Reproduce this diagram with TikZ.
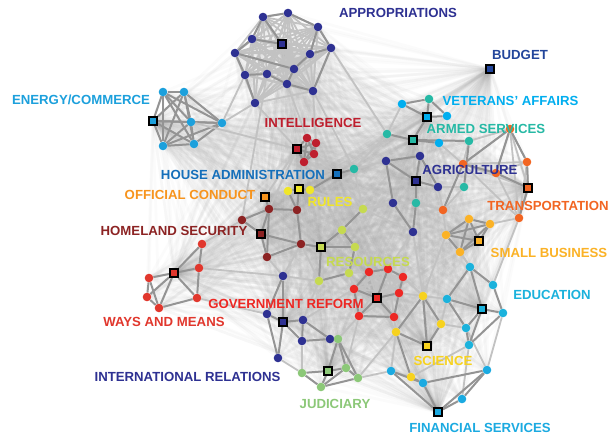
\documentclass[tikz,border=0pt]{standalone}
\usepackage{fontspec}
\setmainfont{Liberation Sans}
\definecolor{cAP}{RGB}{46,49,146}
\definecolor{cBU}{RGB}{35,70,155}
\definecolor{cEC}{RGB}{28,160,220}
\definecolor{cVA}{RGB}{0,174,239}
\definecolor{cAS}{RGB}{38,185,165}
\definecolor{cHA}{RGB}{21,111,186}
\definecolor{cIN}{RGB}{190,30,45}
\definecolor{cOC}{RGB}{247,148,29}
\definecolor{cRU}{RGB}{240,230,40}
\definecolor{cHS}{RGB}{140,35,35}
\definecolor{cRE}{RGB}{198,218,80}
\definecolor{cGR}{RGB}{237,40,36}
\definecolor{cWM}{RGB}{225,55,45}
\definecolor{cTR}{RGB}{242,101,34}
\definecolor{cSB}{RGB}{251,178,38}
\definecolor{cED}{RGB}{27,178,220}
\definecolor{cSC}{RGB}{247,210,30}
\definecolor{cJU}{RGB}{140,200,120}
\definecolor{cFS}{RGB}{27,170,225}
\pgfdeclarelayer{bg}
\pgfsetlayers{bg,main}
\tikzset{
  dot/.style={circle, fill=#1, minimum size=8.6pt, inner sep=0pt},
  sqr/.style={rectangle, draw=black, line width=1.9pt, fill=#1, minimum size=8pt, inner sep=0pt},
  lab/.style={font=\bfseries\fontsize{13.2}{14}\selectfont, text=#1, inner sep=0pt, anchor=center},
  e1/.style={draw=black!42, line width=2pt},
  e2/.style={draw=black!24, line width=1.8pt},
  haze/.style={draw=black!30, line width=2.6pt, opacity=0.05},
}
\newcommand\myclique[2]{%
  \foreach \a [count=\i] in {#2} {
    \foreach \b [count=\j] in {#2} {
      \ifnum\j>\i \draw[#1] (\a) -- (\b); \fi
    }
  }
}
\begin{document}
\begin{tikzpicture}[x=1pt,y=-1pt]
\useasboundingbox (0,0) rectangle (612,438);
% ---------------- nodes ----------------
\foreach \n/\x/\y in {ap1/263/17, ap2/288/13, ap3/318/27, ap4/252/39, ap5/331/48, ap6/235/53, ap7/310/54, ap8/245/75, ap9/267/74, ap10/294/69, ap11/287/84, ap12/313/91, ap13/255/103}
  \node[dot=cAP] (\n) at (\x,\y) {};
\node[sqr=cAP] (ap0) at (282,44) {};
\node[sqr=cBU] (bu0) at (490,69) {};
\foreach \n/\x/\y in {ec1/163/92, ec2/184/92, ec3/191/122, ec4/222/123, ec5/163/146, ec6/194/144}
  \node[dot=cEC] (\n) at (\x,\y) {};
\node[sqr=cEC] (ec0) at (153,121) {};
\foreach \n/\x/\y in {va1/402/104, va2/447/116, va3/439/143}
  \node[dot=cVA] (\n) at (\x,\y) {};
\node[sqr=cVA] (va0) at (427,117) {};
\foreach \n/\x/\y in {as1/429/99, as2/387/134, as3/469/141, as4/464/187, as5/416/203, as6/354/169}
  \node[dot=cAS] (\n) at (\x,\y) {};
\node[sqr=cAS] (as0) at (413,140) {};
\node[sqr=cHA] (ha0) at (337,174) {};
\foreach \n/\x/\y in {in1/307/138, in2/316/143, in3/314/154, in4/304/162}
  \node[dot=cIN] (\n) at (\x,\y) {};
\node[sqr=cIN] (in0) at (297,149) {};
\foreach \n/\x/\y in {ag1/420/156, ag2/386/161, ag3/438/187, ag4/393/203, ag5/413/232}
  \node[dot=cAP] (\n) at (\x,\y) {};
\node[sqr=cAP] (ag0) at (416,181) {};
\foreach \n/\x/\y in {tr1/510/129, tr2/527/162, tr3/463/164, tr4/496/173, tr5/443/210, tr6/519/218}
  \node[dot=cTR] (\n) at (\x,\y) {};
\node[sqr=cTR] (tr0) at (528,188) {};
\foreach \n/\x/\y in {sb1/469/219, sb2/490/224, sb3/446/235, sb4/460/252}
  \node[dot=cSB] (\n) at (\x,\y) {};
\node[sqr=cSB] (sb0) at (479,241) {};
\node[sqr=cOC] (oc0) at (265,197) {};
\foreach \n/\x/\y in {ru1/288/191, ru2/310/190}
  \node[dot=cRU] (\n) at (\x,\y) {};
\node[sqr=cRU] (ru0) at (299,189) {};
\foreach \n/\x/\y in {hs1/269/209, hs2/297/210, hs3/242/220, hs4/301/244, hs5/267/257}
  \node[dot=cHS] (\n) at (\x,\y) {};
\node[sqr=cHS] (hs0) at (261,234) {};
\foreach \n/\x/\y in {re1/363/209, re2/342/230, re3/355/247, re4/349/273, re5/319/281}
  \node[dot=cRE] (\n) at (\x,\y) {};
\node[sqr=cRE] (re0) at (321,247) {};
\foreach \n/\x/\y in {gr1/369/272, gr2/388/269, gr3/403/277, gr4/354/289, gr5/399/293, gr6/359/316, gr7/394/317}
  \node[dot=cGR] (\n) at (\x,\y) {};
\node[sqr=cGR] (gr0) at (377,298) {};
\foreach \n/\x/\y in {wm1/202/244, wm2/199/268, wm3/149/278, wm4/147/297, wm5/159/308, wm6/197/298}
  \node[dot=cWM] (\n) at (\x,\y) {};
\node[sqr=cWM] (wm0) at (174,273) {};
\foreach \n/\x/\y in {ed1/470/267, ed2/493/285, ed3/447/299, ed4/503/313, ed5/466/328, ed6/469/345}
  \node[dot=cED] (\n) at (\x,\y) {};
\node[sqr=cED] (ed0) at (482,309) {};
\foreach \n/\x/\y in {sc1/423/296, sc2/441/324, sc3/396/332, sc4/411/377}
  \node[dot=cSC] (\n) at (\x,\y) {};
\node[sqr=cSC] (sc0) at (427,346) {};
\foreach \n/\x/\y in {fs1/487/370, fs2/391/371, fs3/423/383, fs4/462/399}
  \node[dot=cFS] (\n) at (\x,\y) {};
\node[sqr=cFS] (fs0) at (438,412) {};
\foreach \n/\x/\y in {ir1/283/276, ir2/267/314, ir3/303/320, ir4/302/341, ir5/330/339, ir6/278/358}
  \node[dot=cAP] (\n) at (\x,\y) {};
\node[sqr=cAP] (ir0) at (283,322) {};
\foreach \n/\x/\y in {ju1/338/339, ju2/346/368, ju3/302/373, ju4/321/387, ju5/358/378}
  \node[dot=cJU] (\n) at (\x,\y) {};
\node[sqr=cJU] (ju0) at (328,371) {};
% ---------------- edges ----------------
\def\allnodes{ap0,ap1,ap2,ap3,ap4,ap5,ap6,ap7,ap8,ap9,ap10,ap11,ap12,ap13,bu0,ec0,ec1,ec2,ec3,ec4,ec5,ec6,va0,va1,va2,va3,as0,as1,as2,as3,as4,as5,as6,ha0,in0,in1,in2,in3,in4,ag0,ag1,ag2,ag3,ag4,ag5,tr0,tr1,tr2,tr3,tr4,tr5,tr6,sb0,sb1,sb2,sb3,sb4,oc0,ru0,ru1,ru2,hs0,hs1,hs2,hs3,hs4,hs5,re0,re1,re2,re3,re4,re5,gr0,gr1,gr2,gr3,gr4,gr5,gr6,gr7,wm0,wm1,wm2,wm3,wm4,wm5,wm6,ed0,ed1,ed2,ed3,ed4,ed5,ed6,sc0,sc1,sc2,sc3,sc4,fs0,fs1,fs2,fs3,fs4,ir0,ir1,ir2,ir3,ir4,ir5,ir6,ju0,ju1,ju2,ju3,ju4,ju5}
\def\squares{ap0,bu0,ec0,va0,as0,ha0,in0,ag0,tr0,sb0,oc0,ru0,hs0,re0,gr0,wm0,ed0,sc0,fs0,ir0,ju0}
\begin{pgfonlayer}{bg}
\fill[white] (0,0) rectangle (612,438);
\foreach \s in \squares {
  \foreach \n in \allnodes {
    \ifx\s\n\else \draw[haze] (\s) -- (\n); \fi
  }
}
% cliques
\myclique{e2}{ap0,ap1,ap2,ap3,ap4,ap5,ap6,ap7,ap8,ap9,ap10,ap11,ap12,ap13}
\myclique{e1}{ec0,ec1,ec2,ec3,ec4,ec5,ec6}
\myclique{e1}{in0,in1,in2,in3,in4}
\myclique{e1}{sb0,sb1,sb2,sb3,sb4}
\myclique{e2}{gr0,gr1,gr2,gr3,gr4,gr5,gr6,gr7}
\myclique{e2}{tr0,tr1,tr2,tr3,tr4,tr6}
% inter-cluster mid edges
\foreach \a/\b in {ec4/ap8, ec4/ap13, ec3/in0, ap13/in0, ap11/in1, ap12/in2, ap12/as6, ap9/hs3,
  in3/ha0, in4/hs2, in0/oc0, in0/hs1, ha0/as6, ha0/ru2, ha0/re1, as6/as2, as6/ag2, as6/re1,
  va1/as2, ag5/re1, ag5/gr2, ag5/sc1, ag4/re1, tr5/sb3, tr5/ag3, tr6/sb2, tr6/ed2, sb4/ed1,
  sb3/sc1, gr5/sc1, gr7/sc3, gr3/sc1, re4/gr1, re4/gr4, re5/ir1, re5/ir3, ir3/gr4, ir4/ju3,
  ir6/ju3, ju1/gr6, ju5/fs2, sc3/fs2, sc4/fs2, sc2/ed5, ed3/sc1, ed3/sc2, ed5/fs1, wm1/hs3,
  wm2/ir1, wm6/ir2, hs5/ir1, hs4/re5, as4/tr5, as3/tr1, as0/ag1, ag3/as4, as5/tr5, ag4/as5,
  ju2/gr6, ju5/sc3, ed1/sb4, ir1/hs4, ru2/re1, re1/ag4, sc1/gr3, ed6/fs4, sc4/ed6, ap5/as2,
  va3/tr3, tr3/as3, gr1/re3, ed4/fs1, hs2/re0, in4/ha0}
  \draw[e2] (\a) -- (\b);
% dark edges
\foreach \a/\b in {ap1/ap2, ap2/ap3, ap1/ap4, ap4/ap6, ap6/ap8, ap8/ap13, ap3/ap5, ap5/ap12,
  ap11/ap12, ap9/ap11, ap8/ap9, ap4/ap0, ap7/ap10, ap10/ap11, ap3/ap7, ap5/ap7, ap1/ap0, ap6/ap10,
  va1/va0, va0/va2, va1/as1, as1/va0, as1/va2, va0/as0, as2/as0, as0/va3, as0/as3, as3/as4,
  ag0/ag1, ag0/ag2, ag0/ag3, ag1/ag3, ag2/ag4, ag4/ag5, ag0/as5, as5/ag5, ag1/ag2, as6/ha0,
  tr1/tr2, tr2/tr0, tr0/tr6, tr1/tr4, tr4/tr0, tr3/tr4, tr1/tr3, tr3/tr5,
  ru1/ru0, ru0/ru2, ru0/hs2, ru1/hs2, ha0/ru2,
  hs1/hs2, hs3/hs1, hs3/hs0, hs0/hs4, hs0/hs5, hs1/hs0, hs1/hs5, hs2/hs4, hs4/hs5, oc0/hs1, hs4/re0,
  wm1/wm2, wm1/wm0, wm0/wm3, wm0/wm2, wm0/wm4, wm0/wm5, wm3/wm4, wm3/wm5, wm4/wm5, wm2/wm6, wm5/wm6, wm0/wm6,
  re1/re2, re2/re0, re2/re3, re0/re3, re3/re4, re0/re5, re5/re4,
  gr1/gr2, gr2/gr3, gr1/gr4, gr4/gr0, gr0/gr5, gr3/gr5, gr0/gr6, gr5/gr7, gr6/gr7, gr0/gr2, gr0/gr7, gr4/gr6,
  ed1/ed2, ed1/ed0, ed1/ed3, ed2/ed4, ed0/ed4, ed3/ed0, ed0/ed6, ed4/ed6, ed5/ed6, ed3/ed5, ed0/ed5,
  sc1/sc0, sc1/sc2, sc1/sc3, sc3/sc0, sc2/sc0, sc3/sc4,
  fs2/fs0, fs3/fs0, fs4/fs0, fs1/fs4, fs1/fs0, fs2/fs3, fs3/fs1, sc4/fs3,
  ir1/ir2, ir1/ir0, ir2/ir0, ir0/ir3, ir0/ir4, ir2/ir6, ir0/ir6, ir3/ir5, ir4/ir5, ir3/ir4, ir5/ju1,
  ju1/ju0, ju1/ju2, ju1/ju5, ju3/ju0, ju0/ju2, ju0/ju4, ju3/ju4, ju2/ju5, ju4/ju2, ju4/ju5}
  \draw[e1] (\a) -- (\b);
\end{pgfonlayer}
% ---------------- labels ----------------
\node[lab=cAP] (lAP) at (398,13) {APPROPRIATIONS};
\node[lab=cBU] (lBU) at (520,55) {BUDGET};
\node[lab=cEC] (lEC) at (81,100) {ENERGY/COMMERCE};
\node[lab=cVA] (lVA) at (510.5,101) {VETERANS' AFFAIRS};
\node[lab=cIN] (lIN) at (313,123) {INTELLIGENCE};
\node[lab=cAS] (lAS) at (486,129) {ARMED SERVICES};
\node[lab=cHA] (lHA) at (243,175) {HOUSE ADMINISTRATION};
\node[lab=cAP] (lAG) at (470,170) {AGRICULTURE};
\node[lab=cOC] (lOC) at (190,195) {OFFICIAL CONDUCT};
\node[lab=cRU] (lRU) at (330,202) {RULES};
\node[lab=cTR] (lTR) at (548,206) {TRANSPORTATION};
\node[lab=cHS] (lHS) at (174,231) {HOMELAND SECURITY};
\node[lab=cSB] (lSB) at (549,253) {SMALL BUSINESS};
\node[lab=cRE] (lRE) at (368,262) {RESOURCES};
\node[lab=cED] (lED) at (552,295) {EDUCATION};
\node[lab=cGR] (lGR) at (286,304) {GOVERNMENT REFORM};
\node[lab=cWM] (lWM) at (164,322) {WAYS AND MEANS};
\node[lab=cSC] (lSC) at (443,361) {SCIENCE};
\node[lab=cAP] (lIR) at (187.5,377) {INTERNATIONAL RELATIONS};
\node[lab=cJU] (lJU) at (335,404) {JUDICIARY};
\node[lab=cFS] (lFS) at (480,428) {FINANCIAL SERVICES};
\end{tikzpicture}
\end{document}
